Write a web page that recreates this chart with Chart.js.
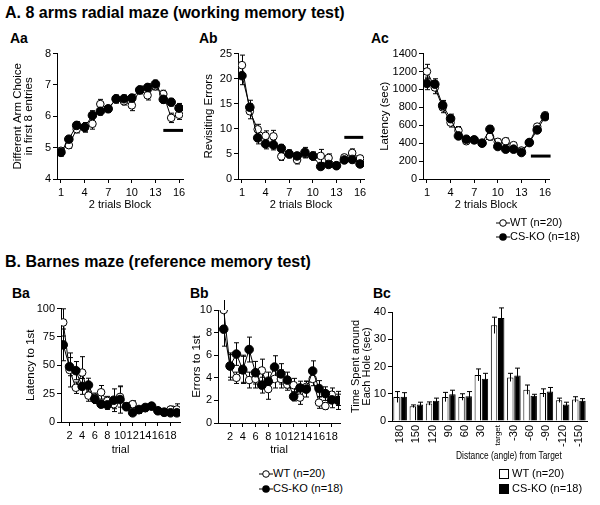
<!DOCTYPE html>
<html>
<head>
<meta charset="utf-8">
<script src="https://cdn.jsdelivr.net/npm/chart.js@4.4.0/dist/chart.umd.min.js"></script>
<style>
body{margin:0;background:#fff;width:600px;height:505px;position:relative;overflow:hidden;font-family:"Liberation Sans",Arial,sans-serif;color:#000}
.sec{position:absolute;left:5px;font-weight:bold;font-size:16px;white-space:nowrap}
.lab{position:absolute;font-weight:bold;font-size:14px}
.leg{position:absolute;font-size:11px;line-height:14px;white-space:nowrap}
.leg svg{vertical-align:middle}
.narrow{transform:scaleX(0.8);transform-origin:left center}
canvas{position:absolute}
</style>
</head>
<body>
<div class="sec" style="top:4px">A. 8 arms radial maze (working memory test)</div>
<div class="lab" style="left:10px;top:30px">Aa</div>
<div class="lab" style="left:199px;top:30px">Ab</div>
<div class="lab" style="left:371px;top:30px">Ac</div>
<div class="sec" style="top:253px">B. Barnes maze (reference memory test)</div>
<div class="lab" style="left:12px;top:285px">Ba</div>
<div class="lab" style="left:190px;top:285px">Bb</div>
<div class="lab" style="left:373px;top:285px">Bc</div>

<canvas id="aa"></canvas>
<canvas id="ab"></canvas>
<canvas id="ac"></canvas>
<canvas id="ba"></canvas>
<canvas id="bb"></canvas>
<canvas id="bc"></canvas>

<div class="leg" style="left:496px;top:215px"><svg width="14" height="10"><line x1="0" y1="5" x2="14" y2="5" stroke="#000"/><circle cx="7" cy="5" r="3.3" fill="#fff" stroke="#000"/></svg>WT (n=20)</div>
<div class="leg" style="left:496px;top:229px"><svg width="14" height="10"><line x1="0" y1="5" x2="14" y2="5" stroke="#000"/><circle cx="7" cy="5" r="3.8" fill="#000"/></svg>CS-KO (n=18)</div>
<div class="leg" style="left:259px;top:466px"><svg width="14" height="10"><line x1="0" y1="5" x2="14" y2="5" stroke="#000"/><circle cx="7" cy="5" r="3.3" fill="#fff" stroke="#000"/></svg>WT (n=20)</div>
<div class="leg" style="left:259px;top:481px"><svg width="14" height="10"><line x1="0" y1="5" x2="14" y2="5" stroke="#000"/><circle cx="7" cy="5" r="3.8" fill="#000"/></svg>CS-KO (n=18)</div>
<div class="leg narrow" style="left:456px;top:448px;font-size:10.5px">Distance (angle) from Target</div>
<div class="leg" style="left:499px;top:466px"><svg width="10" height="10"><rect x="0.5" y="0.5" width="9" height="9" fill="#fff" stroke="#000"/></svg> WT (n=20)</div>
<div class="leg" style="left:499px;top:481px"><svg width="10" height="10"><rect x="0" y="0" width="10" height="10" fill="#000"/></svg> CS-KO (n=18)</div>

<script>
// ---- A: 8 arms radial maze, 2 trials blocks ----
const blocks = [1, 2, 3, 4, 5, 6, 7, 8, 9, 10, 11, 12, 13, 14, 15, 16];
const blockTicks = [1, 4, 7, 10, 13, 16];

const aaWT = [4.9, 5.08, 5.59, 5.65, 5.76, 6.39, 6.24, 6.54, 6.48, 6.35, 6.84, 6.67, 6.96, 6.71, 5.95, 6.05];
const aaWTerr = [0.1, 0.1, 0.12, 0.15, 0.17, 0.15, 0.1, 0.12, 0.12, 0.17, 0.12, 0.15, 0.12, 0.12, 0.15, 0.15];
const aaKO = [4.85, 5.27, 5.71, 5.65, 6.03, 6.16, 6.24, 6.56, 6.56, 6.58, 6.84, 6.92, 7.03, 6.54, 6.45, 6.26];
const aaKOerr = [0.12, 0.1, 0.12, 0.15, 0.15, 0.12, 0.1, 0.12, 0.12, 0.12, 0.12, 0.12, 0.12, 0.12, 0.12, 0.15];
const aaBarX = [14, 16.5];
const aaBarY = 5.55;

const abWT = [22.7, 13.5, 9.9, 8.6, 8.5, 4.5, 5.0, 3.8, 5.0, 4.5, 4.6, 4.2, 2.7, 4.3, 5.2, 4.1];
const abWTerr = [2, 1.5, 1, 1, 1.2, 0.8, 0.8, 0.8, 0.8, 0.7, 1.3, 0.8, 0.5, 0.6, 0.8, 0.6];
const abKO = [20.6, 14.3, 8.2, 7.0, 6.8, 6.1, 5.0, 4.6, 5.3, 4.6, 2.5, 2.9, 2.65, 3.8, 3.9, 3.0];
const abKOerr = [1.8, 1.4, 1.2, 1, 1, 0.8, 0.7, 0.7, 1, 0.8, 0.6, 0.6, 0.6, 0.7, 0.7, 0.6];
const abBarX = [14, 16.4];
const abBarY = 8.3;

const acWT = [1200, 1022, 800, 630, 541, 422, 437, 400, 474, 415, 422, 378, 318, 407, 585, 711];
const acWTerr = [80, 70, 60, 50, 45, 35, 30, 30, 40, 30, 35, 30, 30, 30, 30, 35];
const acKO = [1067, 1059, 822, 674, 481, 444, 437, 400, 555, 363, 333, 333, 296, 407, 548, 696];
const acKOerr = [70, 60, 55, 50, 35, 35, 30, 30, 40, 30, 30, 30, 30, 30, 30, 35];
const acBarX = [14.2, 16.7];
const acBarY = 256;

// ---- B: Barnes maze, trials ----
const trials = [1, 2, 3, 4, 5, 6, 7, 8, 9, 10, 11, 12, 13, 14, 15, 16, 17, 18, 19];
const trialTicks = [2, 4, 6, 8, 10, 12, 14, 16, 18];

const baWT = [87.8, 45.9, 30.2, 43.6, 23.3, 21.5, 26.2, 18.6, 15.7, 22.1, 14.0, 15.7, 10.5, 12.2, 14.0, 9.9, 8.1, 11.0, 11.0];
const baWTerr = [12, 15, 5, 14, 5, 4, 6, 4, 4, 9, 3, 3, 3, 3, 2, 2, 2, 3, 5];
const baKO = [68, 48.8, 45.3, 31.4, 32.6, 20.3, 15.7, 15.1, 19.2, 19.8, 13.4, 8.1, 11.0, 12.8, 14.0, 9.9, 8.7, 8.1, 8.1];
const baKOerr = [14, 8, 8, 7, 6, 4, 3, 4, 10, 12, 3, 2, 2, 3, 2, 2, 2, 2, 2];

const bbWT = [10, 5.0, 4.0, 4.8, 3.8, 3.9, 4.65, 3.0, 3.9, 3.9, 3.4, 3.35, 2.25, 3.2, 3.9, 1.8, 1.5, 2.5, 2.05];
const bbWTerr = [1.4, 1.2, 0.5, 1.2, 0.7, 0.8, 1, 0.9, 0.8, 0.8, 0.5, 0.6, 0.6, 0.5, 0.6, 0.5, 0.3, 0.6, 0.5];
const bbKO = [8.3, 5.05, 6.1, 4.7, 6.5, 4.45, 3.35, 3.7, 4.95, 4.35, 3.8, 2.35, 3.1, 3.0, 4.6, 3.05, 2.6, 2.05, 2.0];
const bbKOerr = [1.5, 1, 1, 1.2, 1.1, 1, 0.7, 0.8, 1, 0.9, 0.7, 0.4, 0.6, 0.7, 0.9, 0.7, 0.6, 0.7, 0.8];

const holes = ['180', '150', '120', '90', '60', '30', 'target', '-30', '-60', '-90', '-120', '-150'];
const bcWT = [8.8, 5.4, 6.4, 8.8, 8.8, 16.9, 35.1, 16.0, 11.5, 10.3, 7.6, 7.9];
const bcWTerr = [2, 0.5, 0.6, 1.7, 1.2, 2.2, 3, 1.5, 1.7, 1.5, 0.8, 1];
const bcKO = [8.9, 6.1, 7.4, 9.8, 9.1, 15.5, 37.8, 16.7, 9.3, 10.8, 6.1, 7.4];
const bcKOerr = [1.5, 0.8, 1, 1.5, 1.7, 2, 3.7, 2.7, 0.5, 1.5, 0.8, 0.8];

const FONT = '"Liberation Sans", Arial, sans-serif';

//draws the SEM bars under the points (lines) or over the bars (bar chart)
const errorBars = {
    id: 'errorBars',
    draw(chart) {
        const ctx = chart.ctx;
        const isBar = chart.config.type === 'bar';
        chart.data.datasets.forEach((ds, i) => {
            if (!ds.errors) return;
            const meta = chart.getDatasetMeta(i);
            const ys = chart.scales[meta.yAxisID];
            ctx.save();
            ctx.strokeStyle = '#000';
            ctx.lineWidth = 1;
            meta.data.forEach((el, j) => {
                const v = ds.data[j];
                const val = typeof v === 'object' ? v.y : v;
                const e = ds.errors[j];
                const x = Math.round(el.x) + 0.5;
                const yTop = ys.getPixelForValue(val + e);
                const yBot = ys.getPixelForValue(val - e);
                ctx.beginPath();
                ctx.moveTo(x, yTop);
                ctx.lineTo(x, yBot);
                ctx.moveTo(x - 2.5, yTop);
                ctx.lineTo(x + 2.5, yTop);
                if (!isBar) {
                    ctx.moveTo(x - 2.5, yBot);
                    ctx.lineTo(x + 2.5, yBot);
                }
                ctx.stroke();
            });
            ctx.restore();
        });
    },
    beforeDatasetsDraw(chart) { if (chart.config.type !== 'bar') this.draw(chart); },
    afterDatasetsDraw(chart) { if (chart.config.type === 'bar') this.draw(chart); }
};

function xy(xs, ys) {
    return xs.map((x, i) => ({x: x, y: ys[i]}));
}

//places a canvas so that its plot area lands on the given rectangle
function placeCanvas(id, box) {
    const cv = document.getElementById(id);
    cv.width = box.w;
    cv.height = box.h;
    cv.style.left = box.left + 'px';
    cv.style.top = box.top + 'px';
    return cv;
}

function axisStyle(tickLen) {
    return {
        grid: {display: true, drawOnChartArea: false, drawTicks: true, tickLength: tickLen, color: '#000', lineWidth: 1},
        border: {display: true, color: '#000', width: 1}
    };
}

function linePanel(id, box, area, o) {
    const cv = placeCanvas(id, box);
    const datasets = [
        {data: xy(o.x, o.ko), errors: o.koErr, borderColor: '#000', borderWidth: 1, pointRadius: 4.3,
         pointBackgroundColor: '#000', pointBorderColor: '#000', pointBorderWidth: 1},
        {data: xy(o.x, o.wt), errors: o.wtErr, borderColor: '#000', borderWidth: 1, pointRadius: 3.8,
         pointBackgroundColor: '#fff', pointBorderColor: '#000', pointBorderWidth: 1}
    ];
    if (o.barX) {
        datasets.push({data: o.barX.map(x => ({x: x, y: o.barY})), borderColor: '#000', borderWidth: 3,
                       pointRadius: 0, clip: false});
    }
    new Chart(cv, {
        type: 'line',
        data: {datasets: datasets},
        plugins: [errorBars],
        options: {
            responsive: false,
            animation: false,
            layout: {padding: {left: 0, top: area.t - box.top, right: box.left + box.w - area.r, bottom: 0}},
            plugins: {legend: {display: false}, tooltip: {enabled: false}},
            scales: {
                x: Object.assign(axisStyle(4), {
                    type: 'linear', min: o.xMin, max: o.xMax,
                    afterFit: s => { s.height = box.top + box.h - area.b; },
                    afterBuildTicks: s => { s.ticks = o.xTicks.map(v => ({value: v})); },
                    ticks: {color: '#000', font: {family: FONT, size: 11}, padding: 3, autoSkip: false, maxRotation: 0,
                            callback: v => String(v)},
                    title: {display: true, text: o.xTitle, color: '#000', font: {family: FONT, size: 11},
                            padding: {top: 0, bottom: 4}}
                }),
                y: Object.assign(axisStyle(4), {
                    min: o.yMin, max: o.yMax,
                    afterFit: s => { s.width = area.l - box.left; },
                    ticks: {color: '#000', font: {family: FONT, size: 11}, padding: 2, stepSize: o.yStep,
                            callback: v => String(v)},
                    title: {display: true, text: o.yTitle, color: '#000', font: {family: FONT, size: 11.5, lineHeight: 1.0},
                            padding: {top: o.yTitlePad, bottom: 0}}
                })
            }
        }
    });
}

linePanel('aa', {left: 0, top: 45, w: 192, h: 171}, {l: 57, t: 53, r: 183, b: 179}, {
    x: blocks, wt: aaWT, wtErr: aaWTerr, ko: aaKO, koErr: aaKOerr, barX: aaBarX, barY: aaBarY,
    xMin: 0.5, xMax: 16.5, xTicks: blockTicks, yMin: 4, yMax: 8, yStep: 1, yTitlePad: 12,
    xTitle: '2 trials Block', yTitle: ['Different Arm Choice', 'in first 8 entries']
});
linePanel('ab', {left: 195, top: 45, w: 175, h: 171}, {l: 238, t: 53, r: 364, b: 179}, {
    x: blocks, wt: abWT, wtErr: abWTerr, ko: abKO, koErr: abKOerr, barX: abBarX, barY: abBarY,
    xMin: 0.5, xMax: 16.5, xTicks: blockTicks, yMin: 0, yMax: 25, yStep: 5, yTitlePad: 8,
    xTitle: '2 trials Block', yTitle: 'Revisiting Errors'
});
linePanel('ac', {left: 375, top: 45, w: 180, h: 171}, {l: 423, t: 53, r: 549, b: 179}, {
    x: blocks, wt: acWT, wtErr: acWTerr, ko: acKO, koErr: acKOerr, barX: acBarX, barY: acBarY,
    xMin: 0.5, xMax: 16.5, xTicks: blockTicks, yMin: 0, yMax: 1400, yStep: 200, yTitlePad: 4,
    xTitle: '2 trials Block', yTitle: 'Latency (sec)'
});
linePanel('ba', {left: 0, top: 300, w: 186, h: 161}, {l: 61, t: 307, r: 180, b: 422}, {
    x: trials, wt: baWT, wtErr: baWTerr, ko: baKO, koErr: baKOerr,
    xMin: 0.65, xMax: 19.5, xTicks: trialTicks, yMin: 0, yMax: 100, yStep: 25, yTitlePad: 25,
    xTitle: 'trial', yTitle: 'Latency to 1st'
});
linePanel('bb', {left: 190, top: 300, w: 156, h: 161}, {l: 218, t: 310, r: 340, b: 423}, {
    x: trials, wt: bbWT, wtErr: bbWTerr, ko: bbKO, koErr: bbKOerr,
    xMin: 0.1, xMax: 19.3, xTicks: trialTicks, yMin: 0, yMax: 10, yStep: 2, yTitlePad: 1,
    xTitle: 'trial', yTitle: 'Errors to 1st'
});

//bar chart of time around each hole
(function () {
    const box = {left: 350, top: 300, w: 250, h: 150};
    const area = {l: 392, t: 312, r: 587, b: 421};
    const cv = placeCanvas('bc', box);
    new Chart(cv, {
        type: 'bar',
        data: {
            labels: holes,
            datasets: [
                {data: bcWT, errors: bcWTerr, backgroundColor: '#fff', borderColor: '#000', borderWidth: 1,
                 barPercentage: 0.9, categoryPercentage: 0.88},
                {data: bcKO, errors: bcKOerr, backgroundColor: '#000', borderColor: '#000', borderWidth: 1,
                 barPercentage: 0.9, categoryPercentage: 0.88}
            ]
        },
        plugins: [errorBars],
        options: {
            responsive: false,
            animation: false,
            layout: {padding: {left: 0, top: area.t - box.top, right: box.left + box.w - area.r, bottom: 0}},
            plugins: {legend: {display: false}, tooltip: {enabled: false}},
            scales: {
                x: {
                    grid: {display: false, drawTicks: false},
                    border: {display: true, color: '#000', width: 1},
                    afterFit: s => { s.height = box.top + box.h - area.b; },
                    ticks: {color: '#000', padding: 4, autoSkip: false, minRotation: 90, maxRotation: 90,
                            font: c => ({family: FONT, size: holes[c.index] === 'target' ? 8 : 11})}
                },
                y: Object.assign(axisStyle(4), {
                    min: 0, max: 40,
                    afterFit: s => { s.width = area.l - box.left; },
                    ticks: {color: '#000', font: {family: FONT, size: 11}, padding: 2, stepSize: 5},
                    title: {display: true, text: ['Time Spent around', 'Each Hole (sec)'], color: '#000',
                            font: {family: FONT, size: 11, lineHeight: 0.95}, padding: {top: 1, bottom: 0}}
                })
            }
        }
    });
})();
</script>
</body>
</html>
